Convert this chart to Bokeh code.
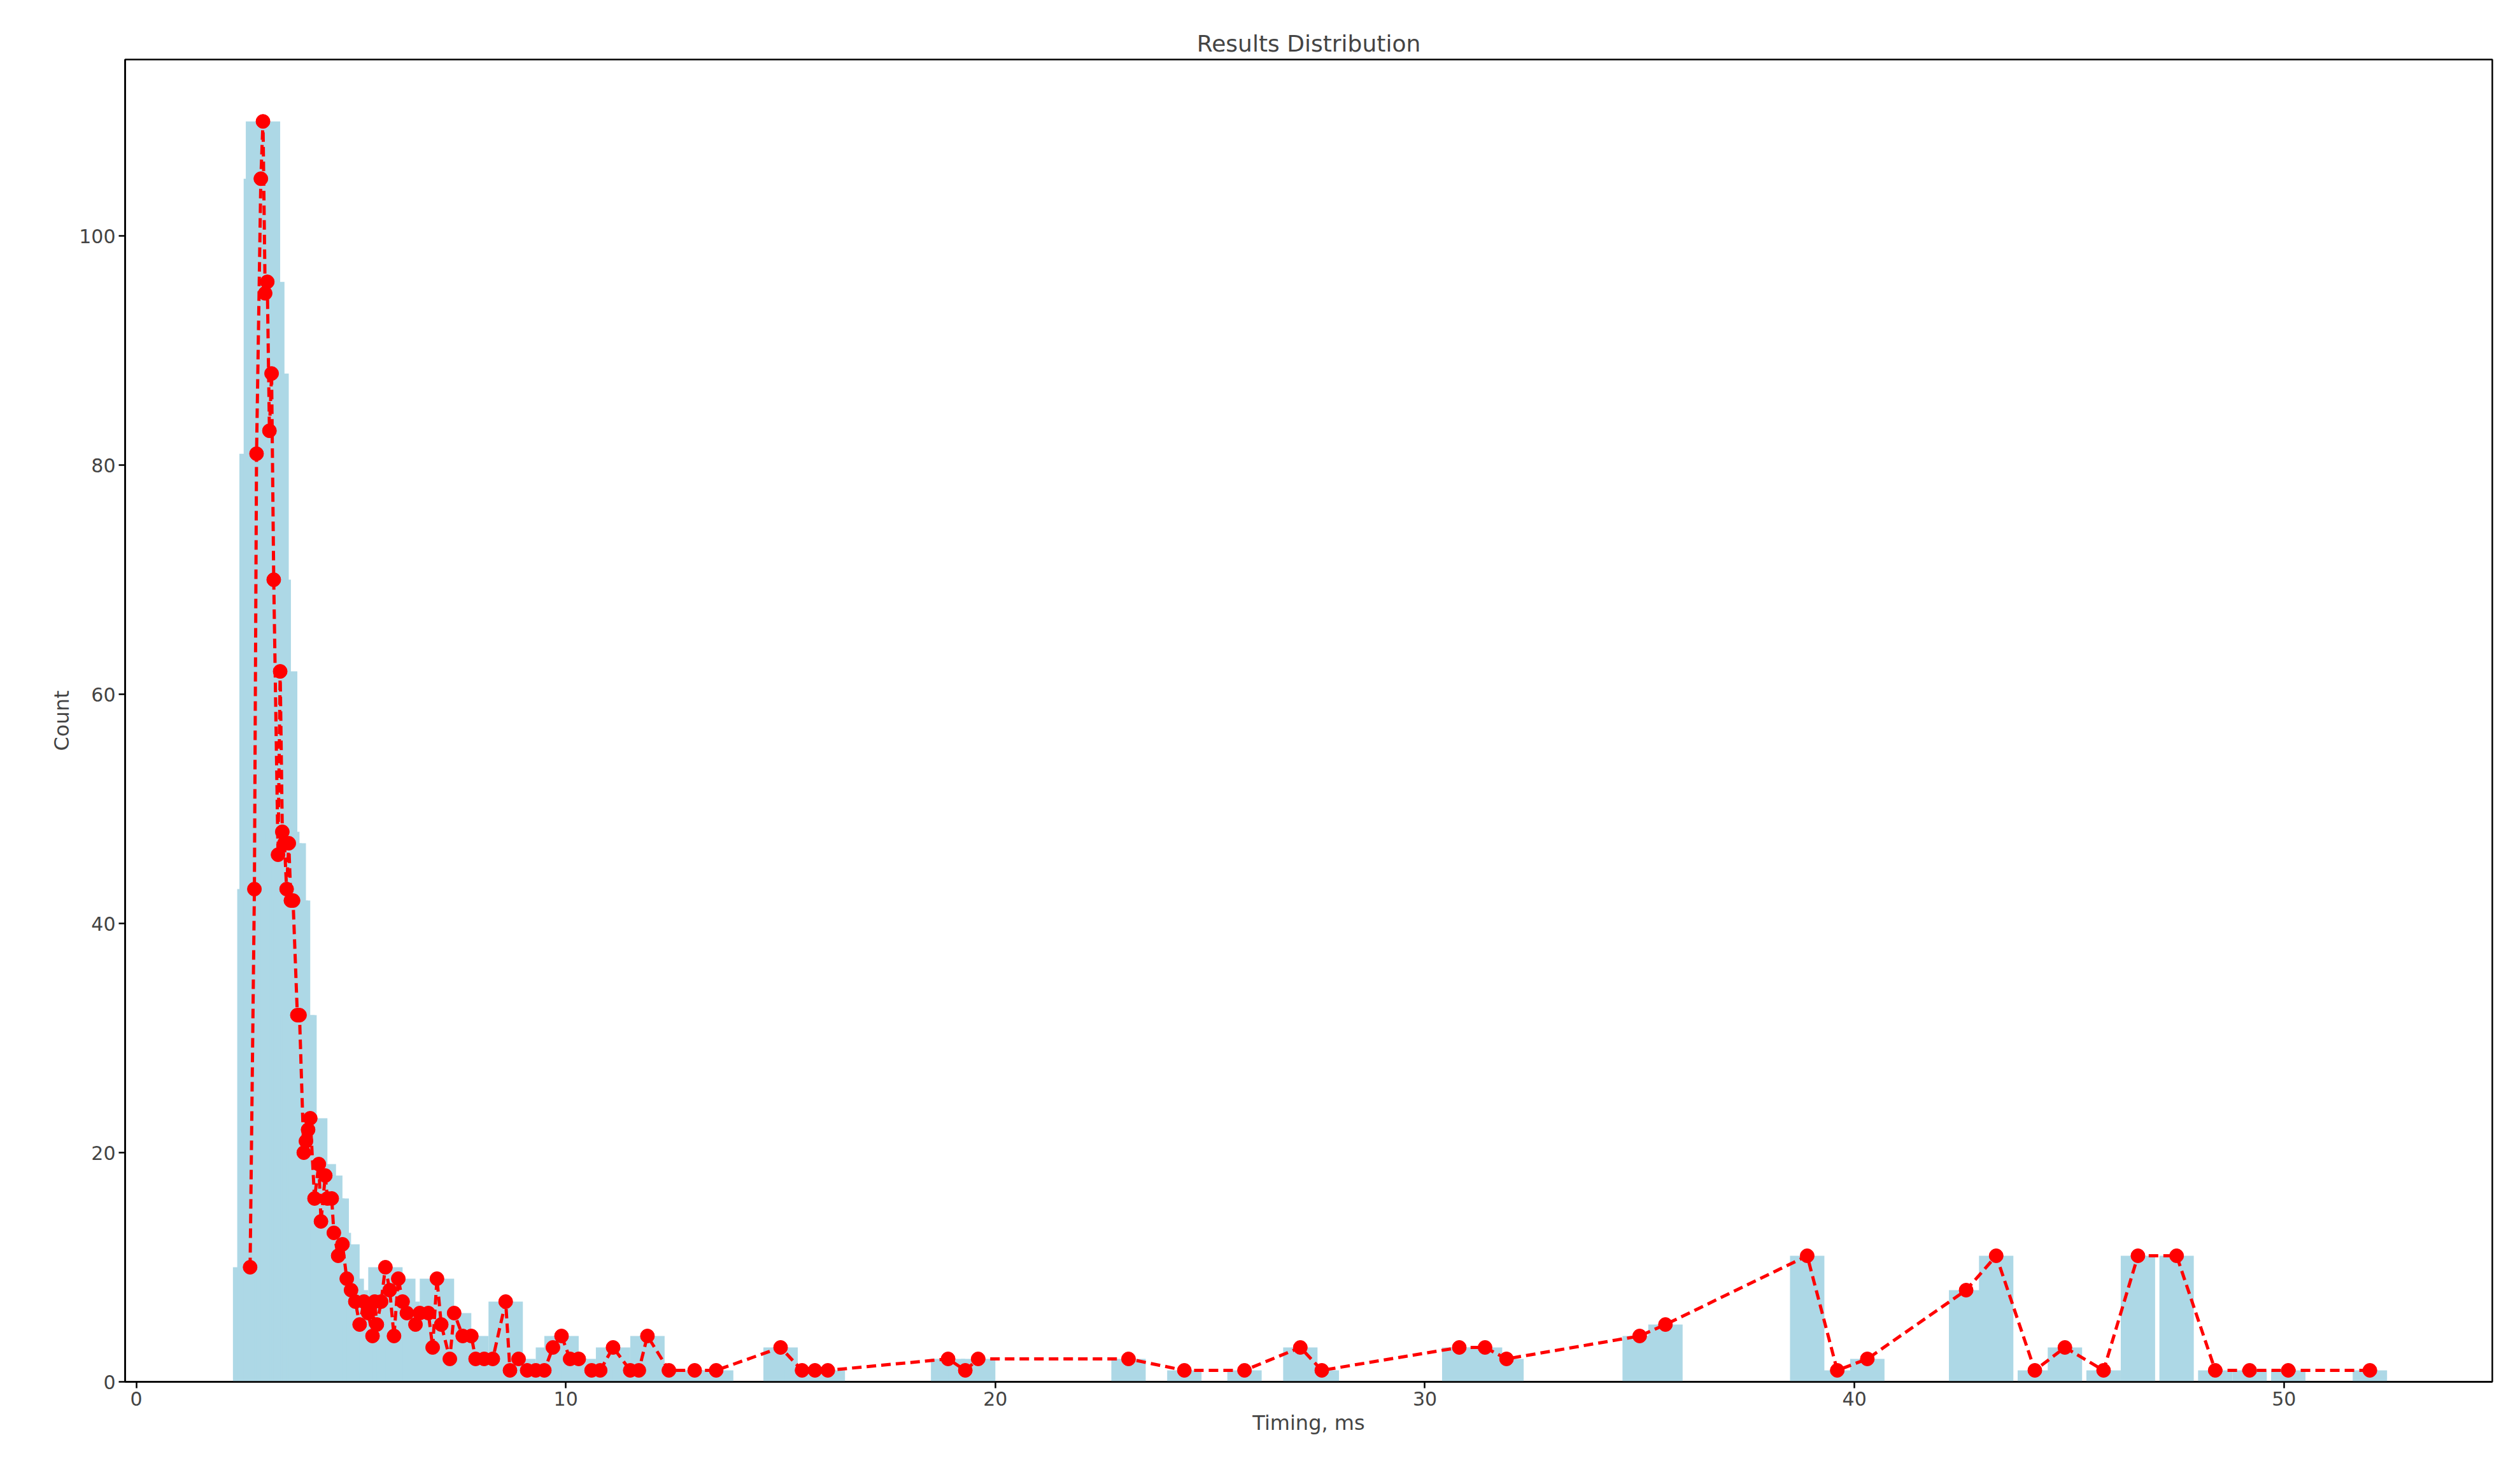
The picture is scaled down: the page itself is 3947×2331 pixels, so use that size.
from bokeh.plotting import figure
from bokeh.embed import file_html
from bokeh.resources import INLINE
from bokeh.models import Range1d, FixedTicker

timing = [2.65,2.75,2.8,2.9,2.95,3.0,3.05,3.1,3.15,3.2,3.3,3.35,3.4,3.45,3.5,3.55,3.6,3.65,3.75,3.8,3.9,3.95,4.0,4.05,4.15,4.25,4.3,4.4,4.45,4.55,4.6,4.7,4.8,4.9,5.0,5.1,5.2,5.3,5.4,5.5,5.55,5.6,5.7,5.8,5.9,6.0,6.1,6.2,6.3,6.5,6.6,6.8,6.9,7.0,7.1,7.3,7.4,7.6,7.8,7.9,8.1,8.3,8.6,8.7,8.9,9.1,9.3,9.5,9.7,9.9,10.1,10.3,10.6,10.8,11.1,11.5,11.7,11.9,12.4,13.0,13.5,15.0,15.5,15.8,16.1,18.9,19.3,19.6,23.1,24.4,25.8,27.1,27.6,30.8,31.4,31.9,35.0,35.6,38.9,39.6,40.3,42.6,43.3,44.2,44.9,45.8,46.6,47.5,48.4,49.2,50.1,52.0]
counts = [10,43,81,105,110,95,96,83,88,70,46,62,48,47,43,47,42,42,32,32,20,21,22,23,16,19,14,18,16,16,13,11,12,9,8,7,5,7,6,4,7,5,7,10,8,4,9,7,6,5,6,6,3,9,5,2,6,4,4,2,2,2,7,1,2,1,1,1,3,4,2,2,1,1,3,1,1,4,1,1,1,3,1,1,1,2,1,2,2,1,1,3,1,3,3,2,4,5,11,1,2,8,11,1,3,1,11,11,1,1,1,1]
x_ticks = [0, 10, 20, 30, 40, 50]
y_ticks = [0, 20, 40, 60, 80, 100]

p = figure(width=3930, height=2310, output_backend="svg", toolbar_location=None,
           title="Results Distribution", x_axis_label="Timing, ms", y_axis_label="Count",
           min_border_left=196, min_border_right=16, min_border_top=93, min_border_bottom=140)
p.x_range = Range1d(-0.26, 54.85)
p.y_range = Range1d(0, 115.4)
p.vbar(x=timing, top=counts, width=0.8, bottom=0, color="lightblue", line_color=None)
p.line(timing, counts, color="red", line_width=5, line_dash="15 8")
p.scatter(timing, counts, size=22, color="red")

p.grid.visible = False
p.outline_line_color = "black"
p.outline_line_width = 2.5
p.title.align = "center"
p.title.text_font_size = "36px"
p.title.text_font_style = "normal"
p.title.text_font = "DejaVu Sans"
for ax, t in ((p.xaxis, x_ticks), (p.yaxis, y_ticks)):
    ax.ticker = FixedTicker(ticks=t)
    ax.major_label_text_font_size = "30px"
    ax.axis_label_text_font_size = "32px"
    ax.axis_label_text_font_style = "normal"
    ax.major_label_text_font = "DejaVu Sans"
    ax.axis_label_text_font = "DejaVu Sans"
    ax.minor_tick_line_color = None
    ax.major_tick_line_width = 2.5
    ax.major_tick_out = 10
    ax.major_tick_in = 0
    ax.axis_line_width = 2.5
open("out.html", "w").write(file_html(p, INLINE))
